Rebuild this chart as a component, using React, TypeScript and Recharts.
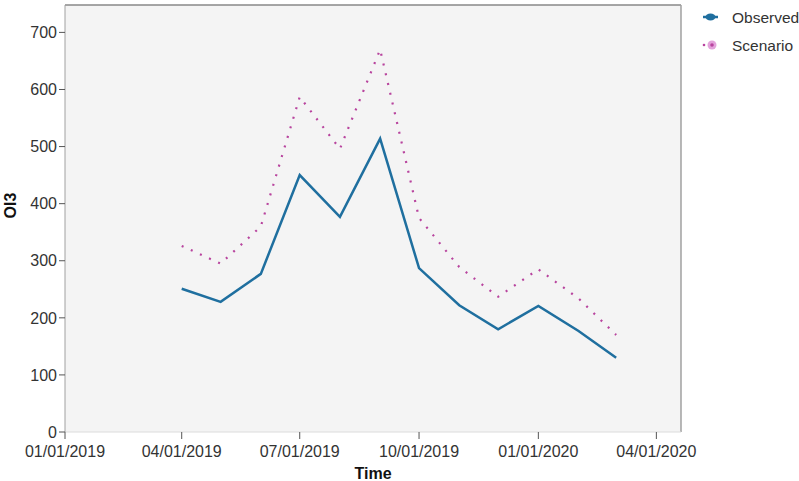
import React from 'react';
import { LineChart, Line, XAxis, YAxis, CartesianGrid, ReferenceLine } from 'recharts';

const months = ['2019-04', '2019-05', '2019-06', '2019-07', '2019-08', '2019-09', '2019-10', '2019-11', '2019-12', '2020-01', '2020-02', '2020-03'];
const observed = [251, 228, 277, 450, 377, 514, 287, 222, 180, 221, 177, 130];
const scenario = [326, 295, 360, 587, 496, 670, 375, 289, 237, 285, 234, 170];
const xTicks = ['2019-01', '2019-04', '2019-07', '2019-10', '2020-01', '2020-04'];
const yTicks = [0, 100, 200, 300, 400, 500, 600, 700];

const toTime = (m: string) => {
  const [y, mo] = m.split('-').map(Number);
  return Date.UTC(y, mo - 1, 1);
};

const data = months.map((m, i) => ({ t: toTime(m), observed: observed[i], scenario: scenario[i] }));

const xStart = toTime('2019-01');
const xEnd = Date.UTC(2020, 3, 20);

const fmtDate = (v: number) => {
  const d = new Date(v);
  const mm = String(d.getUTCMonth() + 1).padStart(2, '0');
  const dd = String(d.getUTCDate()).padStart(2, '0');
  return `${mm}/${dd}/${d.getUTCFullYear()}`;
};

const BLUE = '#1f6f9f';
const PINK = '#b8449e';
const FONT = '"Liberation Sans", Arial, sans-serif';

// legend sits outside the chart so it doesn't eat plot space
const LegendBox = () => (
  <svg width={99} height={60} style={{ position: 'absolute', left: 700, top: 2, fontFamily: FONT }}>
    <line x1={3} y1={15} x2={18} y2={15} stroke={BLUE} strokeWidth={2.5} />
    <ellipse cx={10.5} cy={15} rx={5} ry={3.5} fill={BLUE} />
    <text x={32} y={20.5} fontSize={15.5} fill="#333">Observed</text>
    <circle cx={4} cy={43} r={1.3} fill={PINK} />
    <circle cx={12} cy={43} r={4.5} fill="#e3a3db" />
    <circle cx={12} cy={43} r={1.8} fill={PINK} />
    <text x={32} y={48.5} fontSize={15.5} fill="#333">Scenario</text>
  </svg>
);

const App: React.FC = () => {
  return (
    <div style={{ position: 'absolute', left: 0, top: 0, width: 799, height: 481, background: '#fff' }}>
      <LineChart width={799} height={481} data={data} margin={{ top: 5, right: 118, left: 20, bottom: 19 }}>
        <CartesianGrid fill="#f4f4f4" horizontal={false} vertical={false} />
        <XAxis
          dataKey="t"
          type="number"
          scale="time"
          domain={[xStart, xEnd]}
          ticks={xTicks.map(toTime)}
          tickFormatter={fmtDate}
          height={30}
          axisLine={{ stroke: '#dcdcdc' }}
          tickLine={{ stroke: '#555' }}
          tickSize={7}
          tick={{ fill: '#333', fontSize: 16, fontFamily: FONT, dy: 5 }}
          label={{ value: 'Time', position: 'insideBottom', offset: -17, fill: '#111', fontSize: 16, fontWeight: 'bold', fontFamily: FONT }}
        />
        <YAxis
          domain={[0, 748]}
          ticks={yTicks}
          width={45}
          axisLine={{ stroke: '#a0a0a0' }}
          tickLine={{ stroke: '#555' }}
          tickSize={6}
          tick={{ fill: '#333', fontSize: 16, fontFamily: FONT }}
          label={{ value: 'OI3', angle: -90, position: 'insideLeft', offset: -10, fill: '#111', fontSize: 16, fontWeight: 'bold', fontFamily: FONT }}
        />
        <ReferenceLine y={748} stroke="#888" strokeWidth={1.5} />
        <ReferenceLine x={xEnd} stroke="#a0a0a0" strokeWidth={1.5} />
        <Line
          type="linear"
          dataKey="observed"
          name="Observed"
          stroke={BLUE}
          strokeWidth={2.5}
          dot={false}
          isAnimationActive={false}
        />
        <Line
          type="linear"
          dataKey="scenario"
          name="Scenario"
          stroke={PINK}
          strokeWidth={2.2}
          strokeDasharray="2 8"
          dot={false}
          isAnimationActive={false}
        />
      </LineChart>
      <LegendBox />
    </div>
  );
};

export default App;
